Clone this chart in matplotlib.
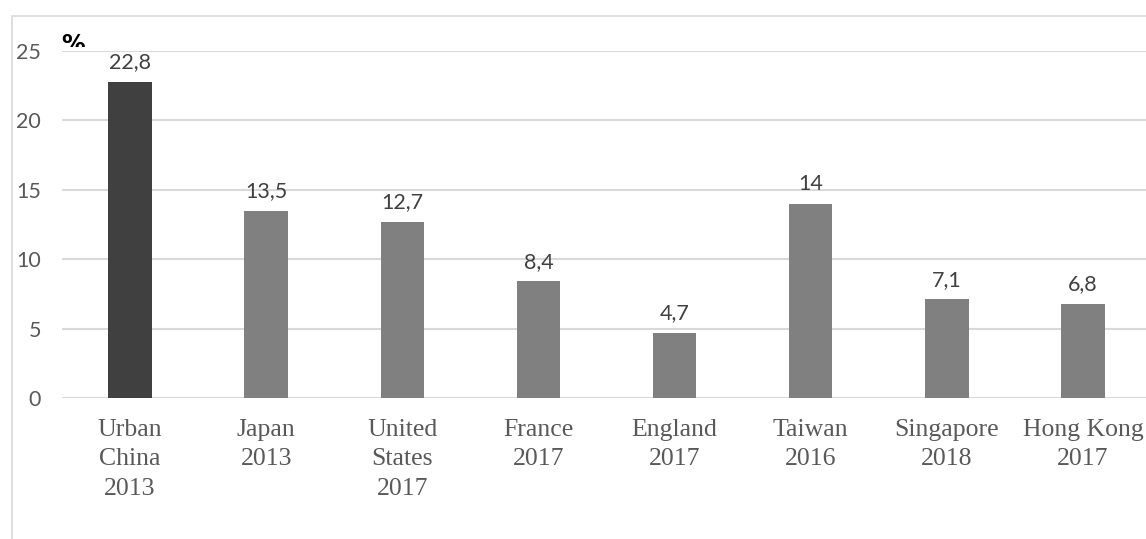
import matplotlib
matplotlib.use("Agg")
import matplotlib.pyplot as plt
from matplotlib.patches import Rectangle
from matplotlib.transforms import Bbox

categories = ["Urban\nChina\n2013", "Japan\n2013", "United\nStates\n2017", "France\n2017",
              "England\n2017", "Taiwan\n2016", "Singapore\n2018", "Hong Kong\n2017"]
values = [22.8, 13.5, 12.7, 8.4, 4.7, 14, 7.1, 6.8]
value_labels = ["22,8", "13,5", "12,7", "8,4", "4,7", "14", "7,1", "6,8"]
yticks = [0, 5, 10, 15, 20, 25]

W, H = 1146, 539
fig = plt.figure(figsize=(W / 100, H / 100), dpi=100)

# outer chart border
fig.patches.append(Rectangle((12 / W, -0.1), 1.2, (H - 16) / H + 0.1, transform=fig.transFigure,
                             fill=False, edgecolor="#d9d9d9", linewidth=1.2))

ax = fig.add_axes([62 / W, (H - 398) / H, (1151 - 62) / W, (398 - 51) / H])
colors = ["#404040"] + ["#808080"] * (len(values) - 1)
x = list(range(len(values)))
ax.bar(x, values, width=0.32, color=colors, zorder=3)
ax.set_xlim(-0.5, len(values) - 0.5)
ax.set_ylim(0, 25)
ax.set_yticks(yticks)
ax.set_yticklabels([str(v) for v in yticks])
ax.set_xticks(x)
ax.set_xticklabels(categories, fontfamily="Liberation Serif", fontsize=18.5,
                   color="#595959", linespacing=1.45)
for lbl in ax.get_yticklabels():
    lbl.set_fontfamily("Lato")
    lbl.set_fontsize(15.5)
    lbl.set_color("#595959")
ax.tick_params(axis="y", length=0, pad=15)
ax.tick_params(axis="x", length=0, pad=15)
ax.grid(axis="y", color="#d9d9d9", linewidth=1.5, zorder=0)
ax.set_axisbelow(True)
for s in ax.spines.values():
    s.set_visible(False)

for xi, v, lab in zip(x, values, value_labels):
    ax.annotate(lab, (xi, v), xytext=(0, 7), textcoords="offset points",
                ha="center", va="bottom", fontfamily="Lato", fontsize=15.5, color="#404040")

t = fig.text(61 / W, (H - 33) / H, "%", fontsize=17, fontweight="bold", color="black",
             ha="left", va="top")
t.set_clip_box(Bbox.from_extents(0, H - 47, W, H - 30))

fig.savefig("out.png", dpi=100)
